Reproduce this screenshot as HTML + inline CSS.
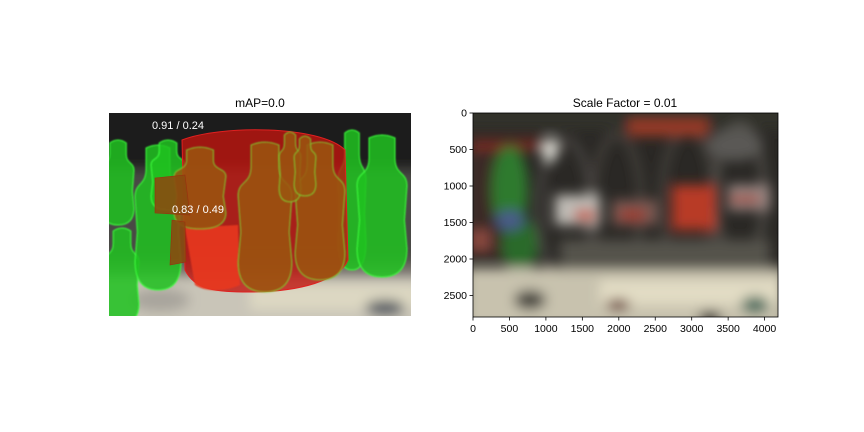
<!DOCTYPE html>
<html><head><meta charset="utf-8"><style>
body{margin:0;background:#fff;}
svg{display:block;font-family:"Liberation Sans","DejaVu Sans",sans-serif;}
</style></head><body>
<svg id="fig" width="864" height="432" viewBox="0 0 864 432">
<defs>
<filter id="b6" x="-20%" y="-20%" width="140%" height="140%"><feGaussianBlur stdDeviation="6"/></filter>
<filter id="b1"><feGaussianBlur stdDeviation="0.7"/></filter>
<clipPath id="cl"><rect x="109" y="113" width="302" height="203"/></clipPath>
<clipPath id="cr"><rect x="473" y="113" width="305" height="204"/></clipPath>
</defs>
<rect width="864" height="432" fill="#fff"/>
<text x="260" y="107" text-anchor="middle" font-size="12">mAP=0.0</text>
<g clip-path="url(#cl)">
 <rect x="109" y="113" width="302" height="203" fill="#6a6660"/>
 <g filter="url(#b6)">
  <rect x="90" y="95" width="340" height="75" fill="#1e1d1a"/>
  <rect x="90" y="170" width="340" height="90" fill="#4a4844"/>
  <rect x="90" y="275" width="340" height="60" fill="#c9c5b8"/>
  <rect x="250" y="285" width="170" height="25" fill="#ddd8c2"/>
  <ellipse cx="160" cy="300" rx="30" ry="12" fill="#a8a49c"/>
  <ellipse cx="385" cy="308" rx="20" ry="8" fill="#505660"/>
 </g>
 <g id="lshapes"></g>
 <text x="152" y="129" fill="#fff" font-size="11">0.91 / 0.24</text>
 <text x="172" y="213" fill="#fff" font-size="11">0.83 / 0.49</text>
</g>
<text x="625" y="107" text-anchor="middle" font-size="12">Scale Factor = 0.01</text>
<g clip-path="url(#cr)">
 <rect x="473" y="113" width="305" height="204" fill="#2a2825"/>
 <g filter="url(#b6)">
  <rect x="460" y="100" width="330" height="30" fill="#33302c"/>
  <rect x="465" y="150" width="40" height="110" fill="#3a2a26"/>
  <rect x="470" y="140" width="90" height="10" fill="#7a2a20"/>
  <ellipse cx="565" cy="210" rx="26" ry="70" fill="none" stroke="#4e4a46" stroke-width="6"/>
  <ellipse cx="617" cy="205" rx="24" ry="70" fill="none" stroke="#48443f" stroke-width="6"/>
  <ellipse cx="688" cy="200" rx="26" ry="70" fill="none" stroke="#48443f" stroke-width="6"/>
  <ellipse cx="740" cy="195" rx="24" ry="70" fill="none" stroke="#55524e" stroke-width="6"/>
  <ellipse cx="510" cy="190" rx="18" ry="45" fill="#2f7a2e"/>
  <ellipse cx="520" cy="245" rx="18" ry="30" fill="#2a6a2a"/>
  <ellipse cx="510" cy="220" rx="14" ry="10" fill="#4a5a8a"/>
  <ellipse cx="550" cy="150" rx="8" ry="12" fill="#d8d8d0"/>
  <rect x="555" y="195" width="45" height="30" fill="#bfbcb6"/>
  <rect x="575" y="210" width="20" height="10" fill="#c64a30"/>
  <rect x="612" y="200" width="45" height="25" fill="#7a5a52"/>
  <rect x="620" y="210" width="25" height="10" fill="#a03526"/>
  <rect x="628" y="120" width="80" height="16" fill="#9a3a26"/>
  <rect x="672" y="185" width="44" height="45" fill="#b83a28"/>
  <rect x="728" y="185" width="42" height="25" fill="#9a8a86"/>
  <rect x="730" y="195" width="30" height="8" fill="#a04030"/>
  <ellipse cx="735" cy="145" rx="28" ry="16" fill="#5a5854"/>
  <rect x="470" y="230" width="20" height="20" fill="#8a4a40"/>
  <rect x="465" y="268" width="320" height="60" fill="#c8c2ae"/>
  <rect x="600" y="280" width="180" height="25" fill="#e2dcc4"/>
  <ellipse cx="530" cy="300" rx="16" ry="10" fill="#4a4640"/>
  <ellipse cx="618" cy="305" rx="12" ry="6" fill="#6a3a30"/>
  <ellipse cx="710" cy="318" rx="12" ry="7" fill="#1a1814"/>
  <ellipse cx="755" cy="305" rx="14" ry="9" fill="#507060"/>
  <rect x="560" y="240" width="210" height="30" fill="#55524c"/>
 </g>
</g>
<rect x="473" y="113" width="305" height="204" fill="none" stroke="#000" stroke-width="0.8"/>
<g id="axes" font-size="10.5"></g>
<script>
const xTicks=[0,500,1000,1500,2000,2500,3000,3500,4000];
const yTicks=[0,500,1000,1500,2000,2500];
const x0=473, y0=113, sx=0.0729, sy=0.0730;
const X=v=>x0+v*sx, Y=v=>y0+v*sy;
const NS="http://www.w3.org/2000/svg";
const ax=document.getElementById('axes');
function mk(t,a,p){const e=document.createElementNS(NS,t);for(const k in a)e.setAttribute(k,a[k]);p.appendChild(e);return e;}
xTicks.forEach(v=>{
 const l=mk('line',{x1:X(v),x2:X(v),y1:317,y2:320.5,stroke:'#000','stroke-width':0.8},ax);
 
 
 const t=mk('text',{x:X(v),y:332,'text-anchor':'middle'},ax);t.textContent=v;
 
 
});
yTicks.forEach(v=>{
 const l=mk('line',{x1:469.5,x2:473,y1:Y(v),y2:Y(v),stroke:'#000','stroke-width':0.8},ax);
 
 
 const t=mk('text',{x:467,y:Y(v)+3.5,'text-anchor':'end'},ax);t.textContent=v;
 
 
});
const ls=document.getElementById('lshapes');
function bottle(cx,top,w,h){const n=w*0.26,nh=h*0.16,sh=h*0.36,r=w/2;
 return `M${cx-n},${top+3} Q${cx},${top-3} ${cx+n},${top+3} L${cx+n},${top+nh} C${cx+n},${top+sh*0.8} ${cx+r},${top+sh*0.7} ${cx+r},${top+sh} L${cx+r*0.9},${top+h*0.6} L${cx+r},${top+h*0.8} Q${cx+r},${top+h} ${cx},${top+h} Q${cx-r},${top+h} ${cx-r},${top+h*0.8} L${cx-r*0.9},${top+h*0.6} L${cx-r},${top+sh} C${cx-r},${top+sh*0.7} ${cx-n},${top+sh*0.8} ${cx-n},${top+nh} Z`;}
const greens=[[118,140,32,85],[122,228,34,95],[158,145,46,145],[168,140,34,70],[352,130,28,140],[382,135,50,142]];
greens.forEach(g=>{const p=mk('path',{d:bottle(...g),fill:'#1fc21f','fill-opacity':0.85,stroke:'#3cff3c','stroke-width':1,filter:'url(#b1)'},ls);
 
 });
const red=mk('path',{d:'M182,140 C220,125 320,125 345,150 L348,260 C340,280 300,292 250,292 C215,292 195,290 185,270 Z',fill:'#c0150f','fill-opacity':0.8,stroke:'#e02020','stroke-width':1},ls);


const bright=mk('path',{d:'M185,228 L238,225 L240,285 C225,292 205,292 195,285 Z',fill:'#e8361e','fill-opacity':0.9,filter:'url(#b1)'},ls);


const brown=[[200,147,52,82],[265,142,54,150],[320,142,50,138],[290,132,22,70],[305,136,22,60]];
brown.forEach(g=>{const p=mk('path',{d:bottle(...g),fill:'#9a5510','fill-opacity':0.85,stroke:'#7ad030','stroke-width':0.8,filter:'url(#b1)'},ls);
 
 });
const flat=mk('path',{d:'M155,178 L185,175 L190,215 L155,213 Z M172,220 L185,222 L186,262 L170,265 Z',fill:'#8a4a10','fill-opacity':0.9,stroke:'#9a3010','stroke-width':0.6},ls);


</script>
</svg>
</body></html>
